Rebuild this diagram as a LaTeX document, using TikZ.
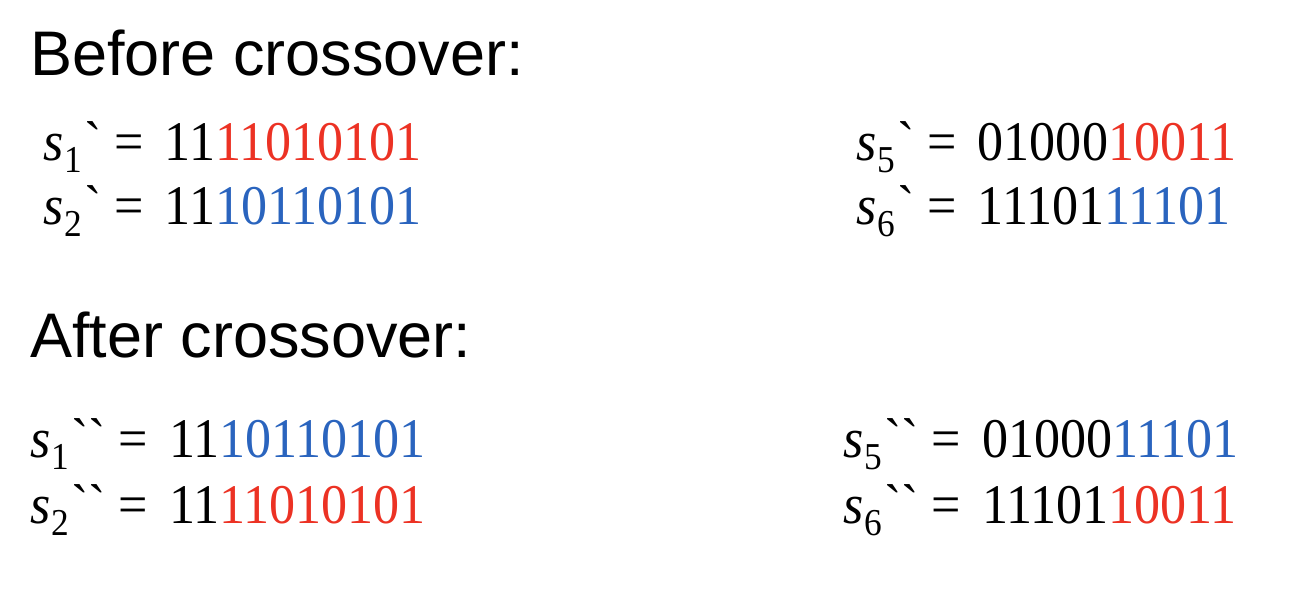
\documentclass[tikz,border=0pt]{standalone}
\usepackage{fontspec}
\setmainfont{Liberation Serif}[FakeStretch=0.93]
\newfontfamily\titlefont{Liberation Sans}
\newfontfamily\tickfont[Ligatures=ResetAll,FakeStretch=0.93]{Liberation Serif}
\definecolor{xred}{RGB}{236,50,36}
\definecolor{xblue}{RGB}{42,100,190}
\newcommand{\tck}{{\tickfont\char"0060\relax}}
\newcommand{\chromo}[5]{\fontsize{56}{60}\selectfont\textit{s}\kern1pt\raisebox{-12pt}{\fontsize{38}{44}\selectfont #1}\kern2pt#2 = \kern8pt#3\textcolor{#4}{#5}}
\tikzset{
  titletext/.style={anchor=base west, inner sep=0pt, font=\titlefont\fontsize{63}{70}\selectfont},
  seqtext/.style={anchor=base west, inner sep=0pt}
}
\begin{document}
\begin{tikzpicture}[x=1pt,y=1pt]
\useasboundingbox (0,0) rectangle (1298,-606);
\node[titletext] (before) at (30,-75) {Before crossover:};
\node[seqtext] (s1a) at (43,-160) {\chromo{1}{\tck}{11}{xred}{11010101}};
\node[seqtext] (s2a) at (43,-224) {\chromo{2}{\tck}{11}{xblue}{10110101}};
\node[seqtext] (s5a) at (856,-160) {\chromo{5}{\tck}{01000}{xred}{10011}};
\node[seqtext] (s6a) at (856,-224) {\chromo{6}{\tck}{11101}{xblue}{11101}};
\node[titletext] (after) at (30,-357) {After crossover:};
\node[seqtext] (s1b) at (30,-457) {\chromo{1}{\tck\tck}{11}{xblue}{10110101}};
\node[seqtext] (s2b) at (30,-523) {\chromo{2}{\tck\tck}{11}{xred}{11010101}};
\node[seqtext] (s5b) at (843,-457) {\chromo{5}{\tck\tck}{01000}{xblue}{11101}};
\node[seqtext] (s6b) at (843,-523) {\chromo{6}{\tck\tck}{11101}{xred}{10011}};
\end{tikzpicture}
\end{document}
